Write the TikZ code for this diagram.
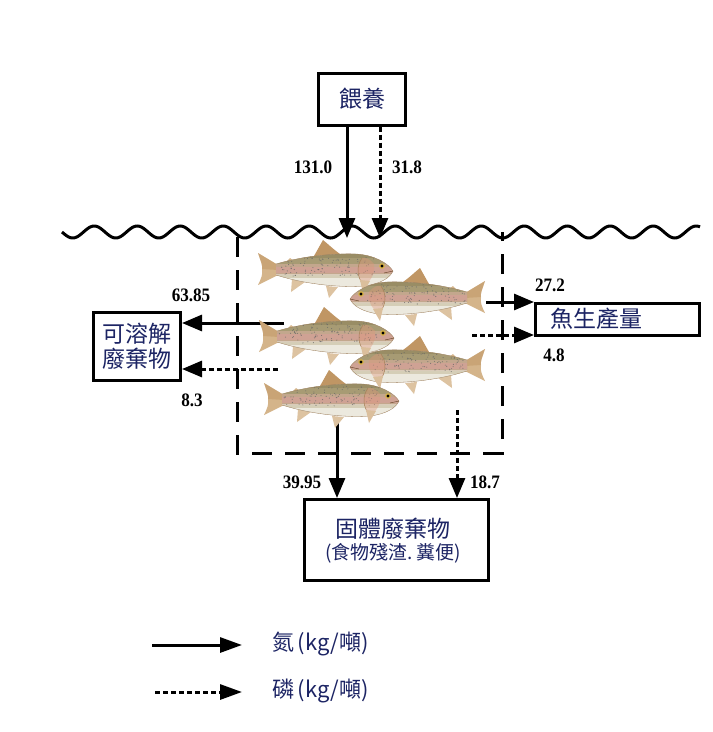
\documentclass[tikz,border=0pt]{standalone}
\usepackage{fontspec}
\usepackage{graphicx}
\setmainfont{Liberation Sans}
\newfontfamily\cjk{Noto Sans CJK TC}
\newfontfamily\numfont{Liberation Serif}
\usetikzlibrary{arrows.meta}
\definecolor{navy}{RGB}{28,36,100}
\definecolor{finc}{RGB}{212,180,138}
\definecolor{dfinc}{RGB}{192,150,100}
\definecolor{basec}{RGB}{184,172,134}
\definecolor{backc}{RGB}{138,126,84}
\definecolor{stripec}{RGB}{222,158,158}
\definecolor{bellyc}{RGB}{242,240,232}
\definecolor{gillc}{RGB}{222,150,122}
\newcommand\numlab[1]{\scalebox{0.9}[1]{\numfont\fontsize{19}{19}\selectfont\bfseries #1}}
\tikzset{
  boxst/.style={draw=black, line width=3pt, fill=white, inner sep=0pt},
  cjktext/.style={text=navy, font=\cjk\fontsize{23}{27}\selectfont, inner sep=0pt},
  nline/.style={line width=3pt, -{Triangle[length=20pt,width=16pt]}},
  pline/.style={line width=3pt, dash pattern=on 5pt off 3pt, -{Triangle[length=20pt,width=16pt]}},
  legn/.style={line width=3pt, -{Triangle[length=22pt,width=15pt]}},
  legp/.style={line width=3pt, dash pattern=on 5pt off 3pt, -{Triangle[length=22pt,width=15pt]}},
  dbox/.style={line width=3pt, dash pattern=on 20pt off 13pt},
  numst/.style={inner sep=0pt},
  trout/.pic={
    % tail
    \fill[finc] (22,-5) -- (2,-17) .. controls (5,-8) and (7,-4) .. (6,0) .. controls (7,4) and (5,9) .. (2,15) -- (22,5) -- cycle;
    \fill[dfinc, opacity=0.5] (22,-5) -- (2,-17) .. controls (5,-8) and (7,-4) .. (6,-1) -- (22,0) -- cycle;
    % dorsal
    \fill[dfinc] (58,-14) -- (67,-30) .. controls (72,-26) and (77,-21) .. (84,-16) -- cycle;
    % adipose
    \fill[finc] (30,-8) -- (34,-12) -- (38,-9) -- cycle;
    % anal
    \fill[finc!80!white] (36,9) -- (35,22) -- (49,12) -- cycle;
    % pelvic
    \fill[finc!80!white] (70,16) -- (73,28) -- (82,17) -- cycle;
    % body
    \begin{scope}
      \clip (20,-6) .. controls (40,-12) and (70,-17) .. (100,-16) .. controls (118,-15) and (132,-7) .. (137,1)
        .. controls (134,8) and (124,14) .. (108,16) .. controls (80,18) and (45,13) .. (20,5) -- cycle;
      \fill[basec] (10,-20) rectangle (140,20);
      \fill[backc, opacity=0.35] (10,-20) rectangle (140,-6);
      \fill[backc, opacity=0.45] (10,-20) rectangle (140,-12);
      \fill[stripec, opacity=0.3] (10,-6) rectangle (140,5);
      \fill[stripec, opacity=0.45] (10,-3) rectangle (140,3);
      \fill[bellyc, opacity=0.5] (10,4) rectangle (140,20);
      \fill[bellyc, opacity=0.8] (10,8) rectangle (140,20);
      \foreach \i in {1,...,110} {\fill[black!60, opacity=0.8] ({22+rnd*98},{-14+rnd*20}) circle (0.55);}
      \fill[gillc, opacity=0.4] (106,-12) .. controls (100,-3) and (101,6) .. (107,15) .. controls (115,12) and (119,4) .. (118,-6) .. controls (114,-11) and (110,-13) .. (106,-12) -- cycle;
    \end{scope}
    \draw[brown!50!gray, line width=0.3pt] (20,-6) .. controls (40,-12) and (70,-17) .. (100,-16) .. controls (118,-15) and (132,-7) .. (137,1)
        .. controls (134,8) and (124,14) .. (108,16) .. controls (80,18) and (45,13) .. (20,5);
    \draw[brown!60!gray, line width=0.5pt] (106,-12) .. controls (100,-3) and (101,6) .. (107,15);
    % pectoral
    \fill[finc!85!white] (104,10) -- (107,23) -- (114,11) -- cycle;
    % eye
    \fill[yellow!35!brown] (126,-4) circle (2.8);
    \fill[black] (126,-4) circle (1.7);
    \draw[brown!50!black, line width=0.4pt] (137,1) -- (128,3);
  }
}
\begin{document}
\begin{tikzpicture}[x=1pt, y=-1pt]
\useasboundingbox[fill=white] (0,0) rectangle (713,732);

% water surface
\draw[line width=3pt] plot[domain=62:700, samples=400, smooth] (\x, {232+6*sin((\x-62)/43*360)});

% dashed enclosure
\draw[dbox] (237,237) -- (237,453) -- (502,453) -- (502,232);

% boxes
\node[boxst, minimum width=87pt, minimum height=52pt] (feed) at (362,99) {};
\node[cjktext] (feedtxt) at (feed.center) {餵養};

\node[boxst, minimum width=87pt, minimum height=68pt] (sol) at (137,346.5) {};
\node[cjktext, font=\cjk\fontsize{23}{25}\selectfont, align=center] (soltxt) at (sol.center) {可溶解\\廢棄物};

\node[boxst, minimum width=164pt, minimum height=32pt] (prod) at (617.5,319) {};
\node[cjktext] (prodtxt) at (596,319) {魚生產量};

\node[boxst, minimum width=184pt, minimum height=81pt] (solid) at (396.5,540) {};
\node[cjktext, font=\cjk\fontsize{23}{25}\selectfont] (solidtxt) at (393,529) {固體廢棄物};
\node[cjktext, font=\cjk\fontsize{19}{21}\selectfont] (solidsub) at (393,553) {(食物殘渣.\,糞便)};

% coordinates inside the school
\coordinate (fN) at (347,238);
\coordinate (fP) at (380,238);
\coordinate (dN) at (284,323);
\coordinate (dP) at (278,369);
\coordinate (pN) at (486,302);
\coordinate (pP) at (472,335);
\coordinate (sN) at (337,418);
\coordinate (sP) at (457,410);

% arrows
\draw[nline] (feed.south -| fN) -- (fN);
\draw[pline] (feed.south -| fP) -- (fP);
\draw[nline] (dN) -- (dN -| sol.east);
\draw[pline] (dP) -- (dP -| sol.east);
\draw[nline] (pN) -- (pN -| prod.west);
\draw[pline] (pP) -- (pP -| prod.west);
\draw[nline] (sN) -- (sN |- solid.north);
\draw[pline] (sP) -- (sP |- solid.north);

% fish
\pgfmathsetseed{7}
\pic at (256,270) {trout};
\pic[xscale=-1] at (487,298) {trout};
\pic at (257,337) {trout};
\pic[xscale=-1] at (487,366) {trout};
\pic at (262,400) {trout};

% numbers
\node[numst] (n1) at (313,167) {\numlab{131.0}};
\node[numst] (n2) at (407,167) {\numlab{31.8}};
\node[numst] (n3) at (191,295) {\numlab{63.85}};
\node[numst] (n4) at (192,400) {\numlab{8.3}};
\node[numst] (n5) at (550,285) {\numlab{27.2}};
\node[numst] (n6) at (554,355) {\numlab{4.8}};
\node[numst] (n7) at (302,482) {\numlab{39.95}};
\node[numst] (n8) at (485,482) {\numlab{18.7}};

% legend
\coordinate (l1a) at (152,645);
\coordinate (l1b) at (242,645);
\coordinate (l2a) at (155,692);
\coordinate (l2b) at (242,692);
\draw[legn] (l1a) -- (l1b);
\draw[legp] (l2a) -- (l2b);
\node[cjktext, anchor=west, font=\cjk\fontsize{22}{24}\selectfont] (leg1) at (272,644) {氮\,(kg/噸)};
\node[cjktext, anchor=west, font=\cjk\fontsize{22}{24}\selectfont] (leg2) at (272,691) {磷\,(kg/噸)};
\end{tikzpicture}
\end{document}
